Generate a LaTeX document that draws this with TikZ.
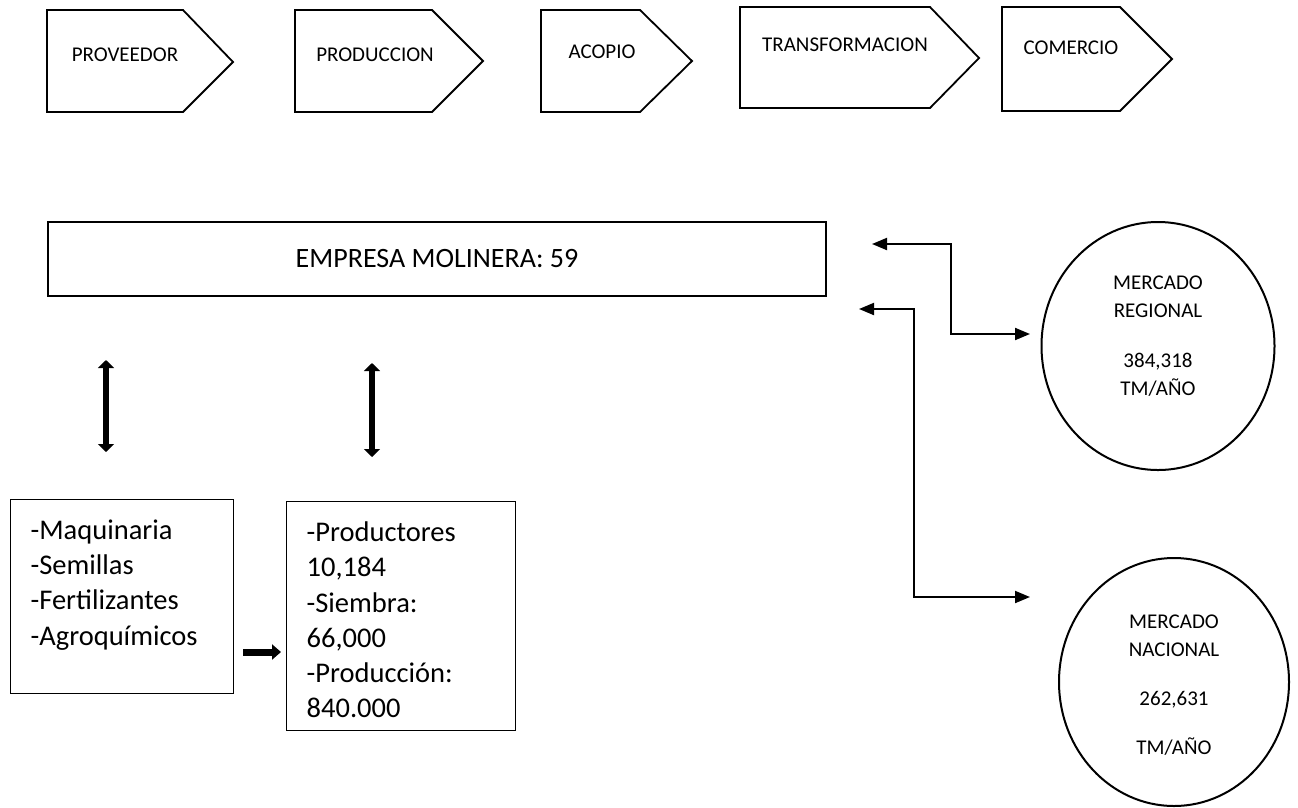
\documentclass[tikz,border=0pt]{standalone}
\usepackage{fontspec}
\setmainfont{Carlito}
\usetikzlibrary{arrows.meta,shapes.geometric}
\tikzset{>=latex}
\tikzset{
  chev/.style={draw, line width=1.8pt, line join=miter},
  chevtxt/.style={inner sep=0pt, font=\fontsize{21}{25}\selectfont},
  box/.style={draw, line width=1.3pt, inner xsep=20pt, inner ysep=20pt, anchor=north west, font=\fontsize{28.5}{35.3}\selectfont},
  mkt/.style={draw, ellipse, line width=2pt, inner sep=0pt},
  mkttxt/.style={align=center, inner sep=0pt, font=\fontsize{21}{28}\selectfont},
  link/.style={line width=2pt, {Triangle[length=15pt,width=12pt]}-{Triangle[length=15pt,width=12pt]}},
  fat/.style={line width=5.5pt, {Triangle[length=8pt,width=16pt]}-{Triangle[length=8pt,width=16pt]}},
  fatone/.style={line width=7pt, -{Triangle[length=9pt,width=15pt]}}
}

\begin{document}
\begin{tikzpicture}[x=1pt, y=-1pt]
      \useasboundingbox (0,0) rectangle (1298,807);
      \draw[chev] (47,10) -- (183,10) -- (233,62) -- (183,112) -- (47,112) -- cycle;
      \node[chevtxt] (prov) at (125,55) {PROVEEDOR};
      \draw[chev] (295,10) -- (432,10) -- (483,61) -- (432,112) -- (295,112) -- cycle;
      \node[chevtxt] (prod) at (375,55) {PRODUCCION};
      \draw[chev] (541,10) -- (640,10) -- (692,61) -- (640,112) -- (541,112) -- cycle;
      \node[chevtxt] (acop) at (602,52) {ACOPIO};
      \draw[chev] (740,7) -- (930,7) -- (979,58) -- (930,108) -- (740,108) -- cycle;
      \node[chevtxt] (trans) at (845,45) {TRANSFORMACION};
      \draw[chev] (1002,7) -- (1120,7) -- (1172,59) -- (1120,111) -- (1002,111) -- cycle;
      \node[chevtxt] (com) at (1071,48) {COMERCIO};
      \node[draw, line width=1.3pt, minimum width=778pt, minimum height=74pt, font=\fontsize{28}{34}\selectfont] (emp) at (437,259) {EMPRESA MOLINERA: 59};
      \node[box] (ins) at (10,499) {\parbox[t][154pt][t]{183pt}{-Maquinaria\\-Semillas\\-Fertilizantes\\-Agroquímicos}};
      \node[box] (prods) at (286,501) {\parbox[t][189pt][t]{189pt}{-Productores\\10,184\\-Siembra:\\66,000\\-Producción:\\840.000}};
      \node[mkt, minimum width=233pt, minimum height=248pt] (reg) at (1158,346) {};
      \node[mkttxt] (regtxt) at (1158,336) {MERCADO\\REGIONAL\\[22pt]384,318\\TM/AÑO};
      \node[mkt, minimum width=230pt, minimum height=248pt] (nac) at (1174,682) {};
      \node[mkttxt] (nactxt) at (1174,685) {MERCADO\\NACIONAL\\[21pt]262,631\\[21pt]TM/AÑO};
      \coordinate (aux1) at (106,360);
      \coordinate (aux2) at (106,452);
      \coordinate (aux3) at (372,363);
      \coordinate (aux4) at (372,457);
      \coordinate (aux5) at (243,652);
      \coordinate (aux6) at (281,652);
      \coordinate (e1) at (872,244);
      \coordinate (r1) at (1030,334);
      \coordinate (e2) at (859,309);
      \coordinate (r2) at (1030,597);
      \draw[fat] (aux1) to (aux2);
      \draw[fat] (aux3) to (aux4);
      \draw[fatone] (aux5) to (aux6);
      \draw[link] (e1) -- ++(79,0) |- (r1);
      \draw[link] (e2) -- ++(55,0) |- (r2);
\end{tikzpicture}
\end{document}
